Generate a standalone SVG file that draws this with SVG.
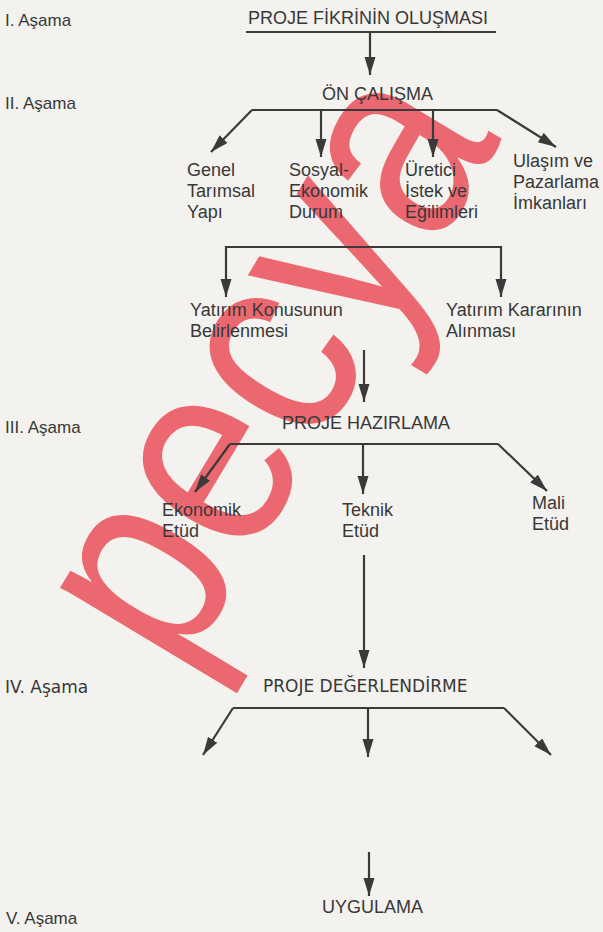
<svg xmlns="http://www.w3.org/2000/svg" width="603" height="932" viewBox="0 0 603 932">
<defs>
<style>
.t{font-family:"Liberation Sans",Arial,sans-serif;font-size:18px;fill:#383838}
.s{font-family:"Liberation Sans",Arial,sans-serif;font-size:17px;fill:#383838}
.h{font-family:"DejaVu Sans",Verdana,sans-serif;font-size:17px;fill:#383838}
.c{fill:none;stroke:#3a3a3a;stroke-width:2.2}
.a{fill:none;stroke:#3a3a3a;stroke-width:2.2;marker-end:url(#ah)}
.wm{font-family:"Liberation Sans",Arial,sans-serif;font-size:280px;fill:#ec6870}
</style>
<marker id="ah" markerUnits="userSpaceOnUse" markerWidth="20" markerHeight="12" refX="18" refY="5.5" orient="auto">
<path d="M0,0 L18,5.5 L0,11 z" fill="#3a3a3a"/>
</marker>
</defs>
<rect width="603" height="932" fill="#f3f2ee"/>

<text class="wm" transform="translate(179,677) rotate(-59) scale(0.84,1)" x="0" y="0">pecya</text>

<g id="stages">
<text class="s" x="5" y="26">I. Aşama</text>
<text class="s" x="5" y="109">II. Aşama</text>
<text class="s" x="5" y="433">III. Aşama</text>
<text class="h" x="5" y="693">IV. Aşama</text>
<text class="s" x="6" y="924">V. Aşama</text>
</g>

<g id="connectors">
<line class="c" x1="246" y1="32" x2="496" y2="32"/>
<line class="a" x1="370" y1="33" x2="370" y2="75"/>
<path class="c" d="M252,110 H497"/>
<path class="a" d="M252,110 L211,152"/>
<path class="a" d="M321,110 V157"/>
<path class="a" d="M433,110 V157"/>
<path class="a" d="M497,110 L556,147"/>
<path class="c" d="M226,247 H501"/>
<path class="a" d="M226,246 V297"/>
<path class="a" d="M501,246 V297"/>
<line class="a" x1="364" y1="350" x2="364" y2="402"/>
<path class="c" d="M230,444 H498"/>
<path class="a" d="M230,444 L195,492"/>
<path class="a" d="M363,444 V494"/>
<path class="a" d="M498,444 L547,491"/>
<line class="a" x1="364" y1="555" x2="364" y2="668"/>
<path class="c" d="M233,708 H504"/>
<path class="a" d="M233,708 L203,755"/>
<path class="a" d="M368,708 V757"/>
<path class="a" d="M504,708 L551,755"/>
<line class="a" x1="369" y1="852" x2="369" y2="896"/>
</g>

<g id="n-fikir"><text class="t" x="248" y="24">PROJE FİKRİNİN OLUŞMASI</text></g>
<g id="n-on"><text class="t" x="322" y="100">ÖN ÇALIŞMA</text></g>
<g id="n-genel"><text class="t"><tspan x="187" y="176">Genel</tspan><tspan x="187" y="197">Tarımsal</tspan><tspan x="187" y="218">Yapı</tspan></text></g>
<g id="n-sosyal"><text class="t"><tspan x="289" y="176">Sosyal-</tspan><tspan x="289" y="197">Ekonomik</tspan><tspan x="289" y="218">Durum</tspan></text></g>
<g id="n-uretici"><text class="t"><tspan x="405" y="176">Üretici</tspan><tspan x="405" y="197">İstek ve</tspan><tspan x="405" y="218">Eğilimleri</tspan></text></g>
<g id="n-ulasim"><text class="t"><tspan x="513" y="167">Ulaşım ve</tspan><tspan x="513" y="188">Pazarlama</tspan><tspan x="513" y="209">İmkanları</tspan></text></g>
<g id="n-konu"><text class="t"><tspan x="190" y="316">Yatırım Konusunun</tspan><tspan x="190" y="337">Belirlenmesi</tspan></text></g>
<g id="n-karar"><text class="t"><tspan x="446" y="316">Yatırım Kararının</tspan><tspan x="446" y="337">Alınması</tspan></text></g>
<g id="n-hazirlama"><text class="t" x="282" y="429">PROJE HAZIRLAMA</text></g>
<g id="n-ekonomik"><text class="t"><tspan x="162" y="516">Ekonomik</tspan><tspan x="162" y="537">Etüd</tspan></text></g>
<g id="n-teknik"><text class="t"><tspan x="342" y="516">Teknik</tspan><tspan x="342" y="537">Etüd</tspan></text></g>
<g id="n-mali"><text class="t"><tspan x="532" y="509">Mali</tspan><tspan x="532" y="530">Etüd</tspan></text></g>
<g id="n-degerlendirme"><text class="h" x="263" y="692">PROJE DEĞERLENDİRME</text></g>
<g id="n-uygulama"><text class="t" x="322" y="913">UYGULAMA</text></g>
</svg>
